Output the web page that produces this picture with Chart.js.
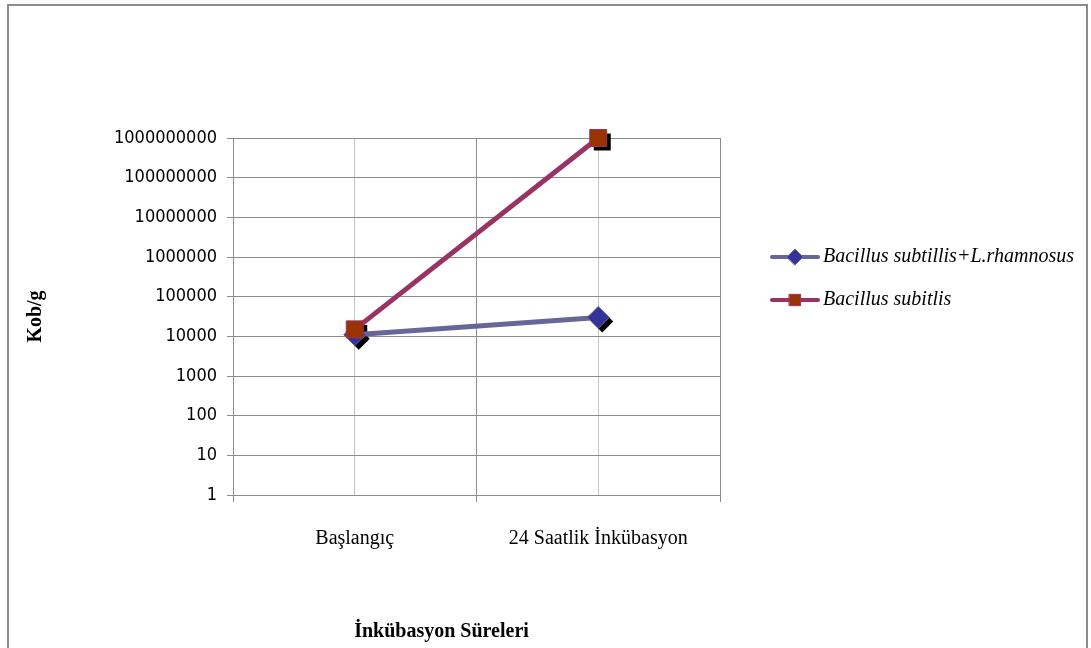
<!DOCTYPE html>
<html>
<head>
<meta charset="utf-8">
<script src="https://cdn.jsdelivr.net/npm/chart.js@4"></script>
<style>
body { margin: 0; background: #fff; overflow: hidden; }
#wrap { position: relative; width: 1091px; height: 648px; }
#frame { position: absolute; left: 7px; top: 4px; width: 1077px; height: 700px; border: 2px solid #8c8c8c; border-bottom: none; }
canvas { position: absolute; left: 0; top: 0; }
</style>
</head>
<body>
<div id="wrap">
    <div id="frame"></div>
    <canvas id="myChart" width="1091" height="648"></canvas>
</div>
<script>
// data
var categories = ['Başlangıç', '24 Saatlik İnkübasyon'];
var mixValues = [11000, 30000];
var subtilisValues = [15000, 1000000000];
var seriesNames = ['Bacillus subtillis+L.rhamnosus', 'Bacillus subitlis'];
var yTicks = [1, 10, 100, 1000, 10000, 100000, 1000000, 10000000, 100000000, 1000000000];

var gridGrey = '#8c8c8c';

// black drop shadow behind every marker
var shadowPlugin = {
    id: 'markerShadow',
    beforeDatasetsDraw: function (chart) {
        var ctx = chart.ctx;
        chart.data.datasets.forEach(function (ds, i) {
            var meta = chart.getDatasetMeta(i);
            meta.data.forEach(function (pt) {
                ctx.save();
                ctx.fillStyle = '#000';
                Chart.helpers.drawPoint(ctx, {pointStyle: ds.pointStyle, radius: ds.pointRadius, borderWidth: 0, rotation: 0}, pt.x + 4, pt.y + 4);
                ctx.restore();
            });
        });
    }
};

// legend on the right: line sample with marker in the middle
var sideLegend = {
    id: 'sideLegend',
    afterDraw: function (chart) {
        var ctx = chart.ctx;
        var area = chart.chartArea;
        chart.data.datasets.forEach(function (ds, i) {
            var y = 257 + i * 43;
            var x0 = area.right + 52;
            ctx.save();
            ctx.strokeStyle = ds.borderColor;
            ctx.lineWidth = 4;
            ctx.lineCap = 'round';
            ctx.beginPath();
            ctx.moveTo(x0, y);
            ctx.lineTo(x0 + 46, y);
            ctx.stroke();
            ctx.fillStyle = ds.pointBackgroundColor;
            ctx.strokeStyle = ds.pointBorderColor;
            ctx.lineWidth = 1;
            Chart.helpers.drawPoint(ctx, {pointStyle: ds.pointStyle, radius: ds.legendRadius, borderWidth: 1, rotation: 0}, x0 + 23, y);
            ctx.fillStyle = '#000';
            ctx.font = 'italic 20px "Liberation Serif", serif';
            ctx.textBaseline = 'middle';
            ctx.textAlign = 'left';
            ctx.fillText(ds.label, x0 + 51, y);
            ctx.restore();
        });
    }
};

var ctx = document.getElementById('myChart');
var myChart = new Chart(ctx, {
    type: 'line',
    data: {
        labels: categories,
        datasets: [{
            label: seriesNames[0],
            data: mixValues,
            borderColor: '#666699',
            borderWidth: 5,
            pointStyle: 'rectRot',
            pointRadius: 11,
            legendRadius: 8,
            pointBackgroundColor: '#333399',
            pointBorderColor: '#666699',
            pointBorderWidth: 1,
            order: 1,
            clip: false
        }, {
            label: seriesNames[1],
            data: subtilisValues,
            borderColor: '#993366',
            borderWidth: 5,
            pointStyle: 'rect',
            pointRadius: 12,
            legendRadius: 8,
            pointBackgroundColor: '#993300',
            pointBorderColor: '#993366',
            pointBorderWidth: 1,
            order: 0,
            clip: false
        }]
    },
    options: {
        responsive: false,
        devicePixelRatio: 1,
        animation: false,
        events: [],
        layout: {
            padding: {left: 20, top: 138, right: 371, bottom: 0}
        },
        plugins: {
            legend: {display: false},
            tooltip: {enabled: false}
        },
        scales: {
            x: {
                type: 'category',
                offset: true,
                grid: {offset: true, color: gridGrey, tickLength: 7},
                border: {color: gridGrey},
                ticks: {
                    color: '#000',
                    padding: 25,
                    maxRotation: 0,
                    font: {family: '"Liberation Serif", serif', size: 20}
                },
                title: {
                    display: true,
                    text: 'İnkübasyon Süreleri' + '\u00a0'.repeat(14),
                    color: '#000',
                    font: {family: '"Liberation Serif", serif', size: 20, weight: 'bold'},
                    padding: {top: 44, bottom: 4}
                }
            },
            // lighter lines through the category centres
            x2: {
                type: 'category',
                position: 'bottom',
                offset: true,
                grid: {offset: false, color: '#c4c4c4', drawTicks: false},
                border: {display: false},
                ticks: {display: false}
            },
            y: {
                type: 'logarithmic',
                min: 1,
                max: 1000000000,
                afterBuildTicks: function (scale) {
                    scale.ticks = yTicks.map(function (v) { return {value: v}; });
                },
                afterFit: function (scale) {
                    scale.width = 213;
                },
                grid: {color: gridGrey, tickLength: 6},
                border: {color: gridGrey},
                ticks: {
                    color: '#000',
                    padding: 10,
                    font: {family: '"DejaVu Sans Condensed", "Liberation Sans", sans-serif', size: 18},
                    callback: function (v) { return String(v); }
                },
                title: {
                    display: true,
                    text: 'Kob/g',
                    color: '#000',
                    font: {family: '"Liberation Serif", serif', size: 20, weight: 'bold'},
                    padding: {top: 4, bottom: 0}
                }
            }
        }
    },
    plugins: [shadowPlugin, sideLegend]
});
</script>
</body>
</html>
